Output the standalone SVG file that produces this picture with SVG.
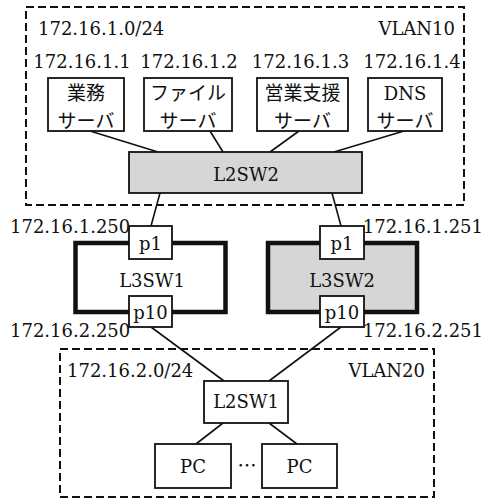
<svg xmlns="http://www.w3.org/2000/svg" width="484" height="499" viewBox="0 0 484 499">
<style>
text{font-family:"DejaVu Serif","Liberation Serif",serif;font-size:18px;fill:#111}
.j{font-family:"Noto Sans CJK JP","DejaVu Sans",sans-serif;font-size:19px}
.m{text-anchor:middle}
.zone{fill:none;stroke:#111;stroke-width:2;stroke-dasharray:8,4}
.box{fill:#fff;stroke:#111;stroke-width:1.8}
.gray{fill:#d6d6d6;stroke:#111;stroke-width:1.8}
.thick{fill:#fff;stroke:#111;stroke-width:4.5}
.thickg{fill:#d6d6d6;stroke:#111;stroke-width:4.5}
.ln{stroke:#111;stroke-width:1.6;fill:none}
</style>
<rect width="484" height="499" fill="#fff"/>
<g id="vlan10">
<rect class="zone" x="26" y="7" width="438" height="198"/>
<text x="38" y="35">172.16.1.0/24</text>
<text x="455" y="35" text-anchor="end">VLAN10</text>
</g>
<g id="vlan20">
<rect class="zone" x="60" y="349" width="374" height="148"/>
<text x="67" y="377">172.16.2.0/24</text>
<text x="425" y="377" text-anchor="end">VLAN20</text>
</g>
<g id="connectors">
<line class="ln" x1="90" y1="131" x2="158" y2="152"/>
<line class="ln" x1="210" y1="131" x2="223" y2="152"/>
<line class="ln" x1="299" y1="131" x2="270" y2="152"/>
<line class="ln" x1="404" y1="131" x2="334" y2="152"/>
<line class="ln" x1="160" y1="193" x2="151" y2="226"/>
<line class="ln" x1="332" y1="193" x2="341" y2="226"/>
<line class="ln" x1="151" y1="327" x2="224" y2="381"/>
<line class="ln" x1="341" y1="327" x2="269" y2="381"/>
<line class="ln" x1="223" y1="423" x2="196" y2="444"/>
<line class="ln" x1="269" y1="423" x2="297" y2="444"/>
</g>
<g id="srv1">
<text class="m" x="82" y="68">172.16.1.1</text>
<rect class="box" x="48" y="78" width="76" height="53"/>
<text class="j m" x="86" y="100">業務</text>
<text class="j m" x="86" y="128">サーバ</text>
</g>
<g id="srv2">
<text class="m" x="189" y="68">172.16.1.2</text>
<rect class="box" x="144" y="78" width="88" height="53"/>
<text class="j m" x="188" y="100">ファイル</text>
<text class="j m" x="188" y="128">サーバ</text>
</g>
<g id="srv3">
<text class="m" x="300.5" y="68">172.16.1.3</text>
<rect class="box" x="257" y="78" width="91" height="53"/>
<text class="j m" x="302.5" y="100">営業支援</text>
<text class="j m" x="302.5" y="128">サーバ</text>
</g>
<g id="srv4">
<text class="m" x="412" y="68">172.16.1.4</text>
<rect class="box" x="368" y="78" width="74" height="53"/>
<text class="m" x="405" y="100">DNS</text>
<text class="j m" x="405" y="128">サーバ</text>
</g>
<g id="l2sw2">
<rect class="gray" x="129" y="152" width="233" height="41"/>
<text class="m" x="246" y="181">L2SW2</text>
</g>
<g id="l3sw1">
<rect class="thick" x="75.5" y="243" width="150" height="69"/>
<text class="m" x="152" y="287">L3SW1</text>
<rect class="box" x="129" y="226" width="43" height="33"/>
<text class="m" x="150.5" y="250">p1</text>
<rect class="box" x="129" y="296" width="43" height="31"/>
<text class="m" x="150.5" y="319">p10</text>
<text x="10" y="233">172.16.1.250</text>
<text x="10" y="337">172.16.2.250</text>
</g>
<g id="l3sw2">
<rect class="thickg" x="268" y="243" width="149" height="69"/>
<text class="m" x="342" y="287">L3SW2</text>
<rect class="box" x="320" y="226" width="44" height="33"/>
<text class="m" x="342" y="250">p1</text>
<rect class="box" x="320" y="296" width="44" height="31"/>
<text class="m" x="342" y="319">p10</text>
<text x="483" y="233" text-anchor="end">172.16.1.251</text>
<text x="483" y="337" text-anchor="end">172.16.2.251</text>
</g>
<g id="l2sw1">
<rect class="box" x="204" y="381" width="84" height="42"/>
<text class="m" x="246" y="408">L2SW1</text>
</g>
<g id="pc1">
<rect class="box" x="155" y="444" width="76" height="44"/>
<text class="m" x="193" y="473">PC</text>
</g>
<g id="pc2">
<rect class="box" x="262" y="444" width="75" height="44"/>
<text class="m" x="299.5" y="473">PC</text>
</g>
<text class="j m" x="247" y="473">…</text>
</svg>
